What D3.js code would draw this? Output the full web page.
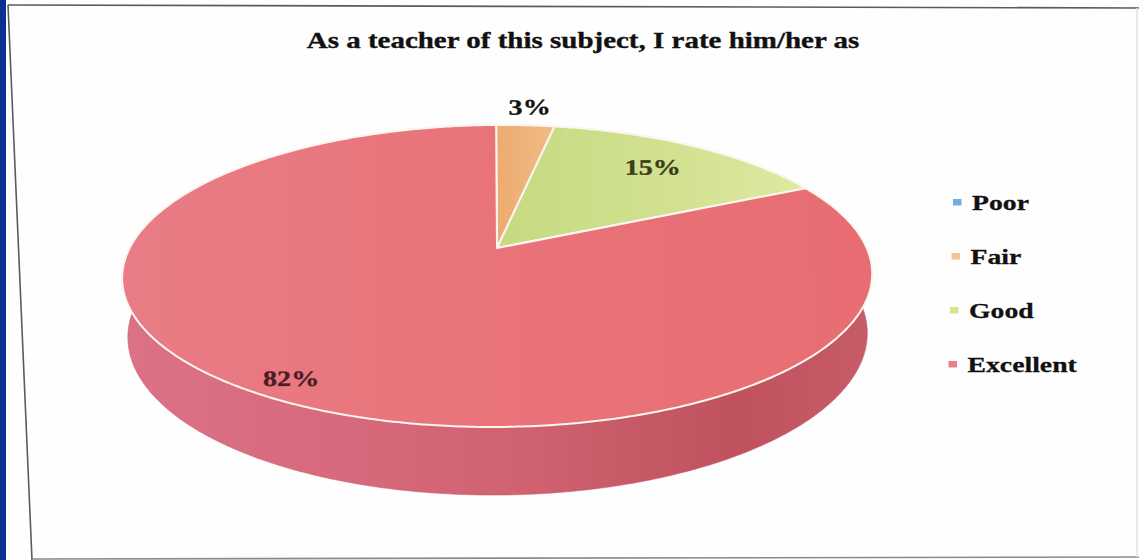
<!DOCTYPE html>
<html>
<head>
<meta charset="utf-8">
<script src="https://cdn.jsdelivr.net/npm/d3@7"></script>
<style>
  html, body { margin: 0; padding: 0; background: #ffffff; }
  svg { display: block; }
</style>
</head>
<body>
<svg id="chart" width="1139" height="560"></svg>
<script>
// ---- data ----
const chartTitle = "As a teacher of this subject, I rate him/her as";
const categories = ["Poor", "Fair", "Good", "Excellent"];
const values = [0, 3, 15, 82];
const valueSuffix = "%";

// ---- styling ----
const topFill = d3.scaleOrdinal().domain(categories)
  .range(["#6fa8dc", "url(#gFair)", "url(#gGood)", "url(#gExc)"]);
const legendFill = d3.scaleOrdinal().domain(categories)
  .range(["#74aee0", "#f4c592", "#dce48a", "#e8808e"]);
const labelFill = d3.scaleOrdinal().domain(categories)
  .range(["#111111", "#121212", "#3c3d1b", "#4b1d25"]);
// how far out (as a fraction of the radius) each value label sits
const labelRadius = d3.scaleOrdinal().domain(categories).range([1.18, 1.18, 0.77, 0.9]);

const W = 1139, H = 560;
const serif = "'Liberation Serif', 'Times New Roman', serif";
const stretch = 1.28; // horizontal text stretch

const svg = d3.select("#chart");
const defs = svg.append("defs");

function linGrad(id, x1, x2, stops) {
  const g = defs.append("linearGradient").attr("id", id)
    .attr("gradientUnits", "userSpaceOnUse")
    .attr("x1", x1).attr("x2", x2).attr("y1", 0).attr("y2", 0);
  stops.forEach(([o, c]) => g.append("stop").attr("offset", o).attr("stop-color", c));
}
linGrad("gExc", 120, 870, [[0, "#e97c86"], [0.45, "#e9747a"], [1, "#e76d72"]]);
linGrad("gGood", 500, 810, [[0, "#c6da80"], [0.6, "#d3e292"], [1, "#dfe9a2"]]);
linGrad("gFair", 497, 556, [[0, "#edab70"], [1, "#f1bd86"]]);
linGrad("gWall", 120, 870, [[0, "#dc7286"], [0.3, "#d7697c"], [0.55, "#cf6170"], [0.82, "#bf525e"], [1, "#c75b67"]]);

// ---- page: scanner edge and paper frame ----
svg.append("rect").attr("x", 0).attr("y", 0).attr("width", W).attr("height", H).attr("fill", "#fefefe");
svg.append("rect").attr("x", 0).attr("y", 0).attr("width", 6).attr("height", H).attr("fill", "#0b3190");
const frame = svg.append("g").attr("fill", "none").attr("stroke", "#5b5b5b").attr("stroke-width", 1.6);
frame.append("line").attr("x1", 8).attr("y1", 5).attr("x2", W).attr("y2", 8);
frame.append("line").attr("x1", 8).attr("y1", 5).attr("x2", 32).attr("y2", H);
frame.append("line").attr("x1", 32).attr("y1", 559).attr("x2", W).attr("y2", 557).attr("stroke", "#8a8a8a");
frame.append("line").attr("x1", 1137).attr("y1", 8).attr("x2", 1137).attr("y2", 557).attr("stroke", "#e2e2e2");

// ---- title ----
svg.append("text")
  .attr("transform", `translate(583,48) scale(1.26,1)`)
  .attr("text-anchor", "middle")
  .attr("font-family", serif).attr("font-weight", "bold").attr("font-size", 23)
  .attr("fill", "#111").attr("stroke", "#111").attr("stroke-width", 0.35)
  .text(chartTitle);

// ---- 3D pie: a disc seen in perspective from above ----
const cx = 497, cy = 248;            // where the slices meet on screen
const F = 1828, D = 4.96;            // focal length and camera distance (disc radius = 1)
const sinT = 0.3957, cosT = Math.sqrt(1 - sinT * sinT); // camera tilt
const depth = 0.174;                 // disc thickness

function project(theta, r, y) {
  const X = r * Math.sin(theta), Z = -r * Math.cos(theta);
  const v = Z * sinT - y * cosT;
  const w = Z * cosT + y * sinT;
  const s = F / (D - w);
  return [cx + X * s, cy + v * s];
}
function sampleAngles(a0, a1) {
  const n = Math.max(2, Math.ceil((a1 - a0) / 0.01));
  return d3.range(n + 1).map(i => a0 + (a1 - a0) * i / n);
}

const pie = d3.pie().sort(null).value(d => d.value).startAngle(0).endAngle(2 * Math.PI);
const slices = pie(categories.map((c, i) => ({ cat: c, value: values[i] })))
  .filter(s => s.endAngle - s.startAngle > 0);
const line = d3.line();

const pieG = svg.append("g").attr("transform", `rotate(-0.4 ${cx} ${cy})`);

// outer walls
pieG.append("g").selectAll("path").data(slices).join("path")
  .attr("d", s => {
    const as = sampleAngles(s.startAngle, s.endAngle);
    const top = as.map(a => project(a, 1, 0));
    const bot = as.slice().reverse().map(a => project(a, 1, -depth));
    return line(top.concat(bot)) + "Z";
  })
  .attr("fill", "url(#gWall)")
  .attr("stroke", "#c86270").attr("stroke-width", 0.6);

// top faces
pieG.append("g").selectAll("path").data(slices).join("path")
  .attr("d", s => {
    const pts = [project(0, 0, 0)].concat(sampleAngles(s.startAngle, s.endAngle).map(a => project(a, 1, 0)));
    return line(pts) + "Z";
  })
  .attr("fill", s => topFill(s.data.cat))
  .attr("stroke", "#fbf6ef").attr("stroke-width", 2).attr("stroke-linejoin", "round");

// value labels
pieG.append("g").selectAll("text").data(slices).join("text")
  .attr("transform", s => {
    const mid = (s.startAngle + s.endAngle) / 2;
    const [x, y] = project(mid, labelRadius(s.data.cat), 0);
    return `translate(${x},${y + 7.5}) scale(${stretch},1)`;
  })
  .attr("text-anchor", "middle")
  .attr("font-family", serif).attr("font-weight", "bold").attr("font-size", 22)
  .attr("fill", s => labelFill(s.data.cat))
  .attr("stroke", s => labelFill(s.data.cat)).attr("stroke-width", 0.3)
  .text(s => s.data.value + valueSuffix);

// ---- legend ----
const legend = svg.append("g");
const item = legend.selectAll("g").data(categories).join("g")
  .attr("transform", (d, i) => `translate(${953 - i * 1.5},${202 + i * 54})`);
item.append("rect").attr("x", 0).attr("y", -3).attr("width", 8.5).attr("height", 6.5)
  .attr("fill", d => legendFill(d));
item.append("text")
  .attr("transform", `translate(19,8) scale(${stretch - 0.02},1)`)
  .attr("font-family", serif).attr("font-weight", "bold").attr("font-size", 22)
  .attr("fill", "#111").attr("stroke", "#111").attr("stroke-width", 0.3)
  .text(d => d);
</script>
</body>
</html>
